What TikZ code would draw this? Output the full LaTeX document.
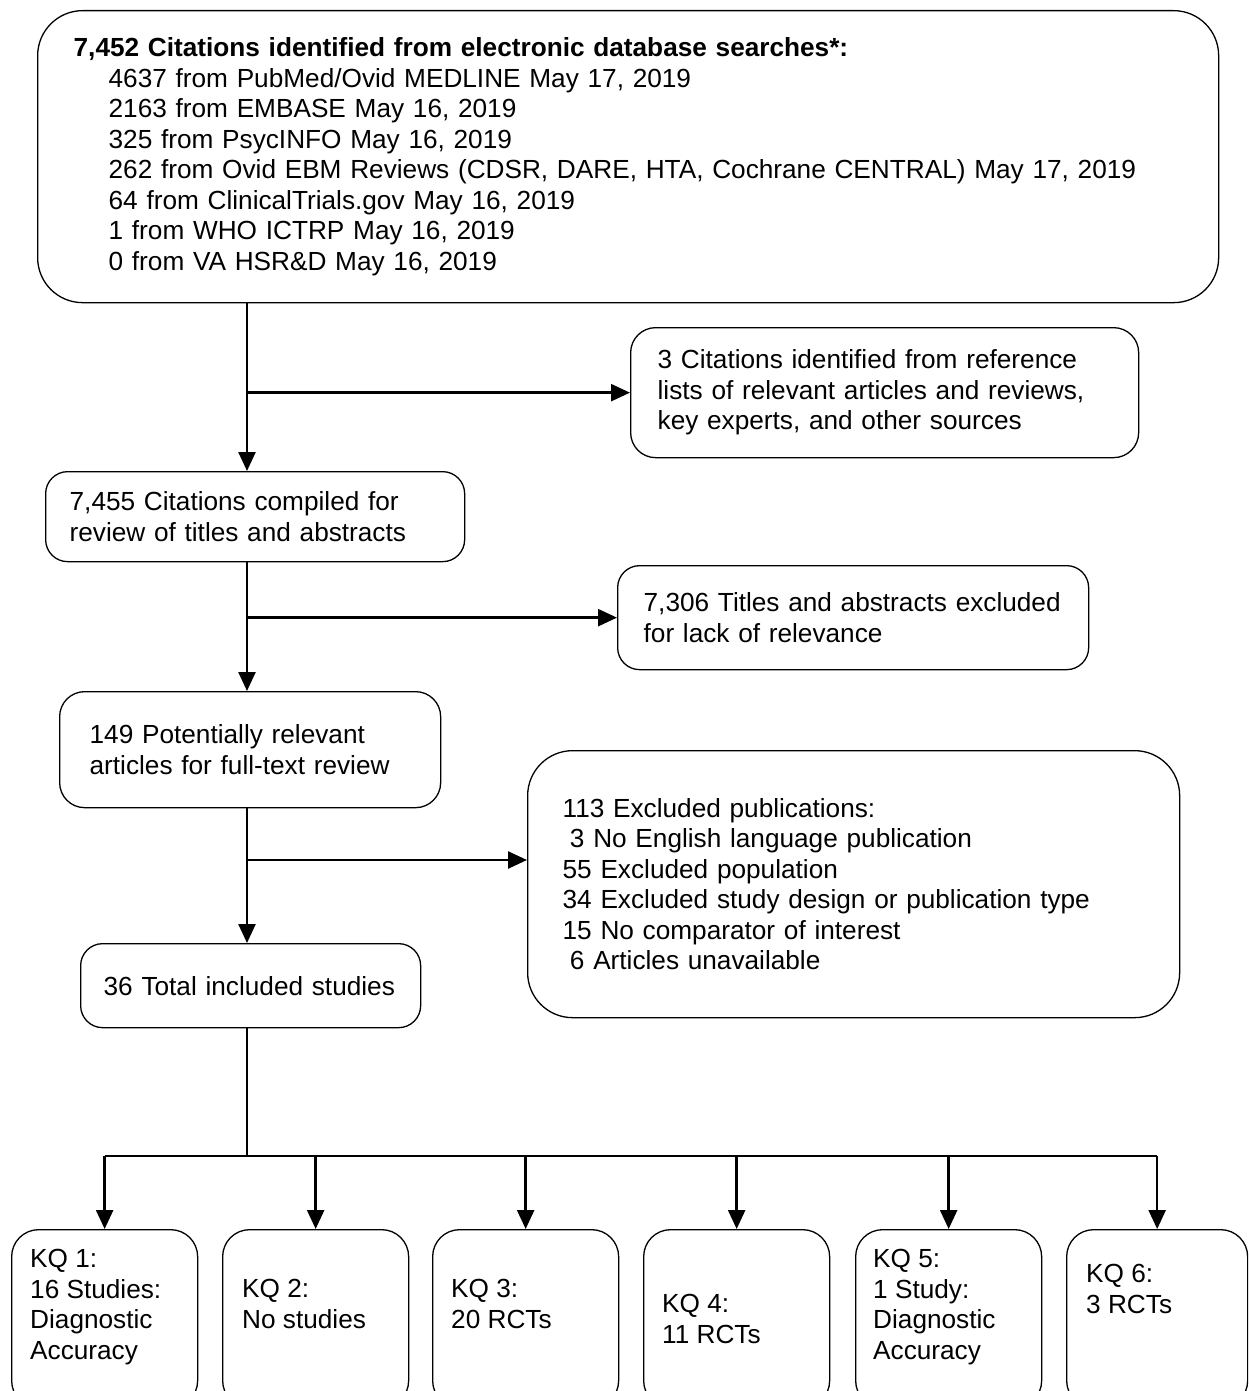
\documentclass[tikz,border=0pt]{standalone}
\usepackage{fontspec}
\setmainfont{Liberation Sans}
\usetikzlibrary{arrows.meta}
\newcommand\myfs{\fontsize{26.2}{30.5}\selectfont}
\begin{document}
\begin{tikzpicture}[x=1pt,y=-1pt,
  box/.style={draw, line width=1.3pt, rounded corners=#1, anchor=north west,
    align=left, inner ysep=0pt, font=\myfs},
  kqbox/.style={draw, line width=1.3pt, rounded corners=27pt, anchor=north west,
    minimum height=178pt, inner sep=0pt},
  kqtext/.style={anchor=north west, inner sep=0pt, align=left, font=\myfs},
  arr/.style={line width=2.5pt, -{Triangle[length=19pt,width=17pt]}},
  trunk/.style={line width=2.8pt}
]
\useasboundingbox (0,0) rectangle (1248,1391);
\clip (0,0) rectangle (1248,1391);

% boxes
\node[box=45pt, text width=1109pt, inner xsep=36pt, minimum height=292pt] (top) at (37,10)
 {\mbox{\textbf{7,452 Citations identified from electronic database searches*:}}\\
  \hspace*{35pt}\mbox{4637 from PubMed/Ovid MEDLINE May 17, 2019}\\
  \hspace*{35pt}\mbox{2163 from EMBASE May 16, 2019}\\
  \hspace*{35pt}\mbox{325 from PsycINFO May 16, 2019}\\
  \hspace*{35pt}\mbox{262 from Ovid EBM Reviews (CDSR, DARE, HTA, Cochrane CENTRAL) May 17, 2019}\\
  \hspace*{35pt}\mbox{64 from ClinicalTrials.gov May 16, 2019}\\
  \hspace*{35pt}\mbox{1 from WHO ICTRP May 16, 2019}\\
  \hspace*{35pt}\mbox{0 from VA HSR\&D May 16, 2019}};

\node[box=25pt, text width=454pt, inner xsep=27pt, minimum height=130pt] (cit3) at (630,327)
 {\mbox{3 Citations identified from reference}\\
  \mbox{lists of relevant articles and reviews,}\\
  \mbox{key experts, and other sources}};

\node[box=22pt, text width=371pt, inner xsep=24pt, minimum height=90pt] (c7455) at (45,471)
 {\mbox{7,455 Citations compiled for}\\
  \mbox{review of titles and abstracts}};

\node[box=22pt, text width=419pt, inner xsep=26pt, minimum height=104pt] (ex7306) at (617,565)
 {\mbox{7,306 Titles and abstracts excluded}\\
  \mbox{for lack of relevance}};

\node[box=25pt, text width=321pt, inner xsep=30pt, minimum height=116pt] (p149) at (59,691)
 {\mbox{149 Potentially relevant}\\
  \mbox{articles for full-text review}};

\node[box=45pt, text width=582pt, inner xsep=35pt, minimum height=267pt] (ex113) at (527,750)
 {\mbox{113 Excluded publications:}\\
  \hspace*{7.3pt}\mbox{3 No English language publication}\\
  \mbox{55 Excluded population}\\
  \mbox{34 Excluded study design or publication type}\\
  \mbox{15 No comparator of interest}\\
  \hspace*{7.3pt}\mbox{6 Articles unavailable}};

\node[box=22pt, text width=294pt, inner xsep=23pt, minimum height=84pt] (n36) at (80,943)
 {\mbox{36 Total included studies}};

% KQ boxes
\node[kqbox, minimum width=186pt] (kq1) at (11,1229) {};
\node[kqbox, minimum width=186pt] (kq2) at (222,1229) {};
\node[kqbox, minimum width=186pt] (kq3) at (432,1229) {};
\node[kqbox, minimum width=186pt] (kq4) at (643,1229) {};
\node[kqbox, minimum width=186pt] (kq5) at (855,1229) {};
\node[kqbox, minimum width=181pt] (kq6) at (1066,1229) {};

\node[kqtext] (kq1t) at ([shift={(19pt,-20pt)}]kq1.north west) {KQ 1:\\16 Studies:\\Diagnostic\\Accuracy};
\node[kqtext] (kq2t) at ([shift={(20pt,-50pt)}]kq2.north west) {KQ 2:\\No studies};
\node[kqtext] (kq3t) at ([shift={(19pt,-50pt)}]kq3.north west) {KQ 3:\\20 RCTs};
\node[kqtext] (kq4t) at ([shift={(19pt,-65pt)}]kq4.north west) {KQ 4:\\11 RCTs};
\node[kqtext] (kq5t) at ([shift={(18pt,-20pt)}]kq5.north west) {KQ 5:\\1 Study:\\Diagnostic\\Accuracy};
\node[kqtext] (kq6t) at ([shift={(20pt,-35pt)}]kq6.north west) {KQ 6:\\3 RCTs};

% connectors
\coordinate (col) at (247,0);
\coordinate (b3) at (247,860);
\coordinate (bar) at (0,1156);

\draw[arr] (col |- top.south) -- (col |- c7455.north);
\draw[arr] (col |- cit3.west) -- (cit3.west);
\draw[arr] (col |- c7455.south) -- (col |- p149.north);
\draw[arr] (col |- ex7306.west) -- (ex7306.west);
\draw[arr] (col |- p149.south) -- (col |- n36.north);
\draw[arr] (b3) -- (b3 -| ex113.west);
\draw[trunk] (col |- n36.south) -- (col |- bar);
\draw[line width=2.8pt] (kq1.north |- bar) -- (kq6.north |- bar);
\foreach \k in {kq1,kq2,kq3,kq4,kq5,kq6}
  \draw[arr] (\k.north |- bar) -- (\k.north);
\end{tikzpicture}
\end{document}
